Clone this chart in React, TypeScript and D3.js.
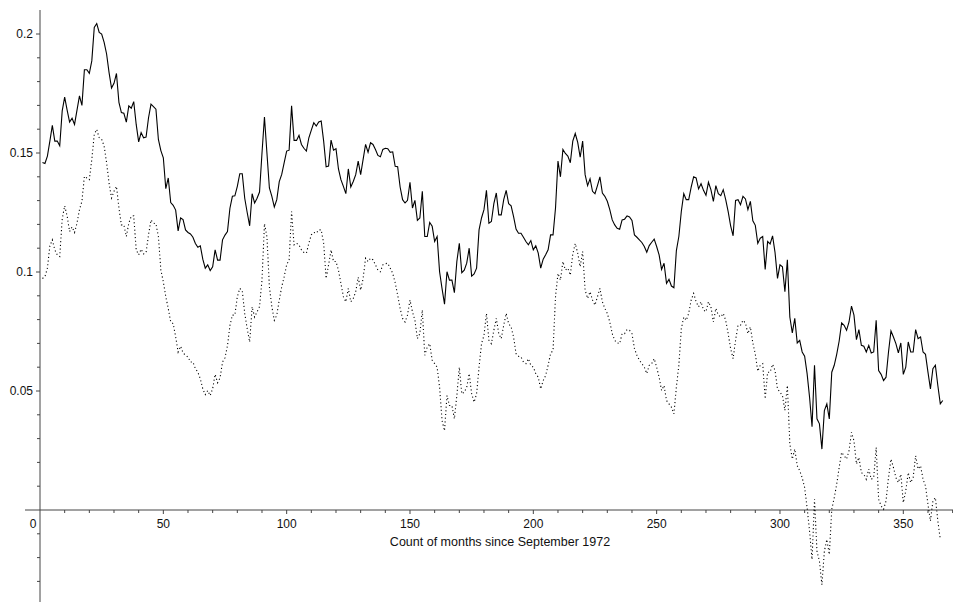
import React from "react";
import * as d3 from "d3";

const width = 953;
const height = 602;

// monthly values, month 1 .. 366 (solid curve)
const solidSeries = [
  0.146, 0.1456, 0.1487, 0.155, 0.1616, 0.155, 0.155, 0.153, 0.1677, 0.1735,
  0.168, 0.163, 0.1646, 0.162, 0.168, 0.174, 0.17, 0.185, 0.185, 0.1835,
  0.1887, 0.2028, 0.2044, 0.2007, 0.2, 0.1965, 0.1916, 0.1838, 0.1773, 0.1793,
  0.1834, 0.1713, 0.167, 0.1667, 0.163, 0.1698, 0.1688, 0.1716, 0.162, 0.1547,
  0.1586, 0.1564, 0.1567, 0.1648, 0.1705, 0.1695, 0.1684, 0.1557, 0.151, 0.148,
  0.135, 0.1395, 0.1292, 0.128, 0.126, 0.1173, 0.1227, 0.122, 0.1177, 0.1166,
  0.116, 0.1146, 0.112, 0.1104, 0.111, 0.1054, 0.1016, 0.103, 0.1006, 0.1022,
  0.1093, 0.105, 0.105, 0.1135, 0.1155, 0.117, 0.1268, 0.1318, 0.132, 0.136,
  0.1413, 0.1413, 0.131, 0.125, 0.1194, 0.1329, 0.129, 0.131, 0.1336, 0.15,
  0.1651, 0.15, 0.1353, 0.1318, 0.1273, 0.1304, 0.138, 0.141, 0.146, 0.1508,
  0.1512, 0.1698, 0.1553, 0.1553, 0.1574, 0.1536, 0.152, 0.1508, 0.1564, 0.1596,
  0.1627, 0.1613, 0.163, 0.1634, 0.155, 0.1442, 0.1445, 0.1554, 0.1512, 0.1518,
  0.1433, 0.1388, 0.136, 0.1329, 0.1433, 0.1357, 0.138, 0.1409, 0.1466, 0.1409,
  0.1473, 0.1536, 0.1503, 0.1543, 0.1536, 0.1515, 0.149, 0.1484, 0.1515, 0.152,
  0.1518, 0.1503, 0.1505, 0.1444, 0.1442, 0.1357, 0.1304, 0.129, 0.1301, 0.1377,
  0.1269, 0.1301, 0.1217, 0.1227, 0.1339, 0.1149, 0.1149, 0.1208, 0.1192, 0.1128,
  0.1149, 0.1001, 0.093, 0.0865, 0.1001, 0.0966, 0.0966, 0.0913, 0.1044, 0.1121,
  0.0997, 0.1008, 0.1037, 0.11, 0.0983, 0.0992, 0.1016, 0.1177, 0.1227, 0.1262,
  0.1343, 0.1205, 0.1212, 0.1287, 0.1332, 0.124, 0.124, 0.1304, 0.1343, 0.1287,
  0.1278, 0.1233, 0.118, 0.1163, 0.1163, 0.1146, 0.1128, 0.1114, 0.1132, 0.1093,
  0.111, 0.1079, 0.1016, 0.1054, 0.1072, 0.1093, 0.1156, 0.1156, 0.1269, 0.1466,
  0.14, 0.1515, 0.1498, 0.1487, 0.1459, 0.155, 0.1582, 0.1545, 0.1482, 0.155,
  0.1409, 0.1363, 0.1392, 0.1339, 0.1329, 0.1363, 0.14, 0.1332, 0.1318, 0.1297,
  0.1262, 0.1219, 0.1198, 0.1184, 0.118, 0.1219, 0.1222, 0.1236, 0.1231, 0.1217,
  0.1156, 0.1146, 0.1135, 0.1124, 0.1107, 0.1083, 0.1111, 0.1125, 0.1138, 0.1107,
  0.1072, 0.1011, 0.1037, 0.0952, 0.0969, 0.0941, 0.0934, 0.109, 0.1149, 0.1254,
  0.1329, 0.1304, 0.1304, 0.1357, 0.14, 0.1395, 0.1349, 0.1371, 0.1343, 0.1322,
  0.1377, 0.1346, 0.1297, 0.1363, 0.1329, 0.1321, 0.1346, 0.1304, 0.1254, 0.1194,
  0.1152, 0.1301, 0.1304, 0.1283, 0.1318, 0.1307, 0.1262, 0.1297, 0.1215, 0.1196,
  0.112, 0.1142, 0.1149, 0.1011, 0.1128, 0.1118, 0.1152, 0.1082, 0.0973, 0.103,
  0.1022, 0.0917, 0.1051, 0.0811, 0.0744, 0.0805, 0.0702, 0.0713, 0.0664, 0.0646,
  0.0573, 0.0474, 0.035, 0.0608, 0.0383, 0.0362, 0.0256, 0.0418, 0.0446, 0.0383,
  0.0579, 0.0608, 0.0654, 0.071, 0.0786, 0.0776, 0.0755, 0.079, 0.0857, 0.0819,
  0.0716, 0.0758, 0.0692, 0.0688, 0.0664, 0.0692, 0.066, 0.0664, 0.0797, 0.0586,
  0.057, 0.0544, 0.0558, 0.0664, 0.0752, 0.0727, 0.0699, 0.066, 0.0702, 0.057,
  0.06, 0.0706, 0.0664, 0.0664, 0.0758, 0.072, 0.0727, 0.0664, 0.0654, 0.0579,
  0.0509, 0.0594, 0.0608, 0.0523, 0.0446, 0.046,
];

// monthly values, month 1 .. 365 (dotted curve)
const dottedSeries = [
  0.0973, 0.098, 0.1016, 0.111, 0.1135, 0.1093, 0.1072, 0.1065, 0.1222, 0.1278,
  0.1235, 0.117, 0.1189, 0.1166, 0.1205, 0.1262, 0.1297, 0.1402, 0.1395, 0.1388,
  0.1473, 0.1578, 0.1599, 0.1564, 0.1557, 0.1529, 0.1459, 0.1374, 0.1311, 0.1339,
  0.136, 0.1269, 0.1198, 0.1198, 0.1149, 0.1205, 0.1234, 0.1236, 0.1093, 0.1072,
  0.1096, 0.1076, 0.1082, 0.1156, 0.1219, 0.1205, 0.1203, 0.1149, 0.1008, 0.0959,
  0.0896, 0.0847, 0.079, 0.0783, 0.0727, 0.0664, 0.0688, 0.066, 0.065, 0.0643,
  0.0622, 0.0622, 0.0594, 0.0579, 0.0551, 0.0509, 0.0485, 0.0502, 0.0481, 0.051,
  0.057, 0.0535, 0.0555, 0.0622, 0.064, 0.069, 0.0775, 0.0819, 0.0819, 0.0896,
  0.0931, 0.0921, 0.0826, 0.0762, 0.0706, 0.0854, 0.0811, 0.0833, 0.0854, 0.0966,
  0.1203, 0.1149, 0.0938, 0.0854, 0.0797, 0.0819, 0.0882, 0.0938, 0.098, 0.103,
  0.1051, 0.1254, 0.1114, 0.1121, 0.1114, 0.1093, 0.1082, 0.1079, 0.1121, 0.1156,
  0.1166, 0.1163, 0.1177, 0.1177, 0.1121, 0.0973, 0.103, 0.1093, 0.1044, 0.1044,
  0.1008, 0.0952, 0.0896, 0.0875, 0.0931, 0.0875, 0.0889, 0.0917, 0.0978, 0.0924,
  0.0973, 0.1058, 0.1044, 0.1058, 0.1051, 0.103, 0.1008, 0.1001, 0.103, 0.1035,
  0.1037, 0.1016, 0.0994, 0.0955, 0.0903, 0.0847, 0.0805, 0.079, 0.0819, 0.0882,
  0.0833, 0.0797, 0.072, 0.0741, 0.084, 0.065, 0.0685, 0.0699, 0.0629, 0.0615,
  0.06, 0.0516, 0.0376, 0.0333, 0.0481, 0.0439, 0.0439, 0.0383, 0.0481, 0.06,
  0.0488, 0.0495, 0.0516, 0.0573, 0.0488, 0.0453, 0.0488, 0.06, 0.0699, 0.0734,
  0.0826, 0.0713, 0.0699, 0.0755, 0.0805, 0.0741, 0.072, 0.0776, 0.0826, 0.0783,
  0.0769, 0.0727, 0.0657, 0.0646, 0.0643, 0.0622, 0.0615, 0.0636, 0.0608, 0.06,
  0.0573, 0.0558, 0.0509, 0.0544, 0.0565, 0.0608, 0.0657, 0.0671, 0.0896, 0.0994,
  0.0966, 0.1044, 0.1008, 0.1016, 0.0987, 0.1075, 0.112, 0.1079, 0.1022, 0.1086,
  0.0924, 0.0889, 0.0917, 0.0882, 0.0861, 0.0896, 0.0931, 0.0875, 0.0847, 0.0826,
  0.079, 0.0741, 0.0713, 0.0702, 0.0699, 0.0741, 0.0741, 0.0758, 0.0755, 0.0741,
  0.0678, 0.065, 0.0629, 0.0615, 0.06, 0.0573, 0.0608, 0.0615, 0.0636, 0.06,
  0.0558, 0.0502, 0.0523, 0.046, 0.0446, 0.0432, 0.0404, 0.0516, 0.0608, 0.0762,
  0.0811, 0.0797, 0.0826, 0.0882, 0.091, 0.0875, 0.0854, 0.0875, 0.084, 0.0833,
  0.0875, 0.0854, 0.079, 0.0847, 0.0819, 0.0811, 0.0826, 0.0797, 0.0741, 0.0678,
  0.0636, 0.0713, 0.0776, 0.0776, 0.0797, 0.0786, 0.0741, 0.0769, 0.0702, 0.0655,
  0.0583, 0.0608, 0.0615, 0.0467, 0.0579, 0.0579, 0.0612, 0.0586, 0.0509, 0.0495,
  0.0481, 0.0418, 0.0523, 0.0277, 0.0214, 0.0256, 0.0186, 0.0165, 0.0136, 0.0094,
  0.001, -0.0089, -0.0208, 0.0045, -0.0173, -0.0215, -0.0314, -0.0173, -0.0124, -0.0187,
  0.0003, 0.0052, 0.0108, 0.0179, 0.0242, 0.0228, 0.0214, 0.0249, 0.0326, 0.0291,
  0.0193, 0.0221, 0.0157, 0.015, 0.0129, 0.0172, 0.0129, 0.0136, 0.0263, 0.0045,
  0.0017, 0.0003, 0.0038, 0.0136, 0.0214, 0.0179, 0.0136, 0.0115, 0.015, 0.0031,
  0.008, 0.0157, 0.0115, 0.0136, 0.0228, 0.0172, 0.0186, 0.0129, 0.0101, 0.0024,
  -0.0046, 0.0038, 0.0052, -0.0045, -0.0124,
];

const xTickValues = [50, 100, 150, 200, 250, 300, 350];
const yTickValues = [0.05, 0.1, 0.15, 0.2];
const xTitle = "Count of months since September 1972";

const font = "'Liberation Sans', Arial, Helvetica, sans-serif";
const axisColor = "#444";

const App = () => {
  const x = d3.scaleLinear().domain([0, 350]).range([40, 903.3]);
  const y = d3.scaleLinear().domain([0, 0.2]).range([510, 34]);

  const line = d3
    .line<number>()
    .x((d, i) => x(i + 1))
    .y((d) => y(d));

  const xMinor = d3.range(10, 371, 10).filter((v) => v % 50 !== 0);
  const yMinor = d3
    .range(-3, 21)
    .map((v) => v / 100)
    .filter((v) => Math.round(v * 100) % 5 !== 0);

  const xAxisY = y(0);
  const yAxisX = x(0);

  return (
    <svg
      width={width}
      height={height}
      style={{ position: "absolute", left: 0, top: 0, background: "#fff" }}
      fontFamily={font}
    >
      {/* axes */}
      <line x1={25} x2={953} y1={xAxisY} y2={xAxisY} stroke={axisColor} strokeWidth={1} />
      <line x1={yAxisX} x2={yAxisX} y1={10} y2={602} stroke={axisColor} strokeWidth={1} />

      {xMinor.map((v) => (
        <line key={"xm" + v} x1={x(v)} x2={x(v)} y1={xAxisY} y2={xAxisY + 3} stroke={axisColor} />
      ))}
      {xTickValues.map((v) => (
        <g key={"xt" + v}>
          <line x1={x(v)} x2={x(v)} y1={xAxisY} y2={xAxisY + 4} stroke={axisColor} />
          <text x={x(v)} y={xAxisY + 18} fontSize={12} textAnchor="middle" fill="#111">
            {v}
          </text>
        </g>
      ))}
      <text x={33} y={xAxisY + 18} fontSize={12} textAnchor="middle" fill="#111">
        0
      </text>

      {yMinor.map((v) => (
        <line key={"ym" + v} x1={yAxisX - 3} x2={yAxisX} y1={y(v)} y2={y(v)} stroke={axisColor} />
      ))}
      {yTickValues.map((v) => (
        <g key={"yt" + v}>
          <line x1={yAxisX - 4} x2={yAxisX} y1={y(v)} y2={y(v)} stroke={axisColor} />
          <text x={33} y={y(v) + 4} fontSize={12} textAnchor="end" fill="#111">
            {v}
          </text>
        </g>
      ))}

      <text x={500} y={xAxisY + 36} fontSize={12.5} textAnchor="middle" fill="#111">
        {xTitle}
      </text>

      {/* series */}
      <path d={line(dottedSeries) || ""} fill="none" stroke="#000" strokeWidth={1.1} strokeDasharray="1.1 2.6" />
      <path d={line(solidSeries) || ""} fill="none" stroke="#000" strokeWidth={1.1} />
    </svg>
  );
};

export default App;
